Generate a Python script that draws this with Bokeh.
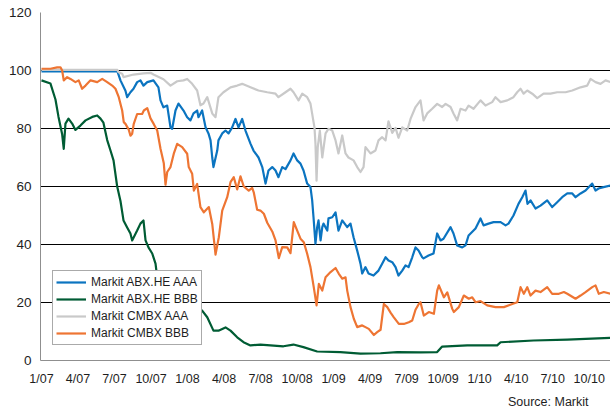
from bokeh.plotting import figure
from bokeh.models import Range1d, FixedTicker, Legend, LegendItem, Title
from bokeh.embed import file_html
from bokeh.resources import INLINE

# x = months since January 2007
tick_months = [0, 3, 6, 9, 12, 15, 18, 21, 24, 27, 30, 33, 36, 39, 42, 45]
tick_labels = ["1/07", "4/07", "7/07", "10/07", "1/08", "4/08", "7/08", "10/08",
               "1/09", "4/09", "7/09", "10/09", "1/10", "4/10", "7/10", "10/10"]
y_ticks = [0, 20, 40, 60, 80, 100, 120]

series_names = ["Markit ABX.HE AAA", "Markit ABX.HE BBB", "Markit CMBX AAA", "Markit CMBX BBB"]
series_colors = ["#0b74c0", "#005c34", "#c9c9c9", "#ee7533"]

abx_aaa_m = [0, 6.24, 6.49, 6.90, 7.04, 7.31, 7.56, 7.86, 8.13, 8.38,
             8.69, 9.20, 9.61, 9.78, 10.02, 10.33, 10.60, 10.74, 11.01, 11.26,
             11.67, 11.97, 12.24, 12.49, 12.79, 12.90, 13.20, 13.48, 13.72, 13.89,
             14.03, 14.13, 14.44, 14.54, 14.85, 15.12, 15.37, 15.67, 15.94, 16.19,
             16.49, 16.76, 17.17, 17.42, 17.83, 18.14, 18.41, 18.65, 18.96, 19.23,
             19.47, 19.78, 20.05, 20.46, 20.71, 21.01, 21.28, 21.53, 21.83, 22.10,
             22.24, 22.35, 22.51, 22.65, 22.76, 22.93, 23.07, 23.17, 23.48, 23.58,
             23.89, 24.16, 24.40, 24.71, 25.12, 25.39, 25.64, 25.94, 26.21, 26.35,
             26.62, 26.87, 27.28, 27.69, 27.99, 28.27, 28.51, 28.82, 29.09, 29.33,
             29.64, 29.91, 30.16, 30.46, 30.73, 30.98, 31.28, 31.39, 31.80, 32.21,
             32.51, 32.79, 33.03, 33.61, 33.85, 34.15, 34.57, 34.84, 35.09, 35.66,
             36.07, 36.32, 36.73, 37.14, 37.72, 38.13, 38.37, 38.78, 39.19, 39.50,
             39.77, 39.93, 40.18, 40.59, 41.00, 41.55, 41.96, 42.37, 42.78, 43.20,
             43.61, 43.88, 44.29, 44.70, 45.25, 45.52, 45.77, 46.18, 46.75]
abx_aaa_v = [99.7, 99.7, 96.6, 93, 90.8, 92.5, 93.7, 96, 96.6, 94.8,
             96, 96.6, 94.2, 89.7, 87.3, 87.9, 80.4, 79.9, 86.2, 88.6,
             86.2, 83.9, 82.8, 85.2, 86.2, 83.9, 86.2, 80.4, 78.3, 75.9,
             70, 66.7, 72.4, 75.9, 78.3, 79.3, 78.3, 80.4, 83.3, 80.4,
             83.3, 79.3, 74.8, 72.4, 70, 66.7, 61, 65.5, 66.7, 65.5,
             63.2, 66.7, 66, 69, 71.4, 69, 67.9, 65.5, 61, 59.8,
             55.2, 49.4, 40.3, 46, 48.3, 41.4, 46, 47.2, 44.8, 49,
             49.4, 51.1, 44.8, 48.3, 46, 47.2, 42.5, 37.9, 33.4, 30,
             32.2, 30, 29.3, 31, 33.4, 35.6, 34.5, 33.9, 32.2, 29.3,
             31, 32.8, 32.2, 35.6, 39, 37.9, 35.6, 35.2, 36.2, 36.9,
             43.8, 41.4, 42, 46, 43.8, 39.7, 39, 39.7, 43.1, 45.5,
             49, 46.6, 47.2, 47.7, 47.7, 46.6, 47.2, 50, 54, 56.3,
             58.6, 54, 55.2, 52.4, 53.4, 55.2, 52.9, 54.6, 56.3, 57.6,
             57.6, 56.3, 57.6, 58.6, 61, 58.6, 59.3, 59.8, 60.3]

abx_bbb_m = [0, 0.74, 1.15, 1.40, 1.70, 1.83, 1.97, 2.22, 2.52, 2.79,
             3.20, 3.62, 4.17, 4.58, 4.85, 5.09, 5.40, 5.67, 5.92, 6.22,
             6.49, 6.74, 7.04, 7.31, 7.45, 7.86, 8.13, 8.38, 8.55, 8.79,
             9.10, 9.37, 9.51, 13.20, 13.62, 14.13, 14.54, 15.12, 15.53, 16.08,
             16.60, 17.17, 17.99, 18.81, 19.88, 20.70, 21.52, 22.65, 24.56, 26.21,
             27.85, 29.23, 31.14, 32.51, 32.92, 34.98, 37.44, 37.72, 40.43, 43.20, 46.75]
abx_bbb_v = [96.6, 95.5, 90, 84, 78, 73, 81.7, 83.4, 81.7, 79.5,
             81, 82.8, 84, 84.5, 83.4, 82, 76, 72.4, 69, 60,
             55, 48.3, 45.9, 43.8, 41.4, 44.8, 47.2, 48.3, 41.4, 39,
             36.9, 33.4, 28.6, 17.2, 14.9, 10.3, 10.3, 11.4, 10.3, 8,
             6.3, 5.2, 5.5, 5.2, 4.9, 5.5, 4.6, 3.1, 2.9, 2.4,
             2.5, 2.9, 2.8, 2.9, 4.8, 5.2, 5.2, 6.3, 6.9, 7.2, 7.8]

cmbx_aaa_m = [0, 6.24, 6.33, 6.63, 6.74, 7.56, 8.38, 8.96, 9.20, 10.02,
              10.60, 11.15, 11.67, 11.97, 12.38, 12.79, 13.06, 13.31, 13.62, 14.03,
              14.30, 14.54, 14.95, 15.53, 16.08, 16.49, 17.17, 17.83, 18.55, 19.23,
              19.47, 20.05, 20.46, 20.71, 21.12, 21.42, 21.83, 22.10, 22.33, 22.43,
              22.51, 22.60, 22.70, 22.87, 23.07, 23.34, 23.58, 23.89, 24.16, 24.40,
              24.71, 24.98, 25.22, 25.64, 25.94, 26.21, 26.46, 26.62, 27.03, 27.44,
              27.69, 27.99, 28.27, 28.51, 28.82, 29.09, 29.33, 29.64, 30.05, 30.32,
              30.73, 31.14, 31.39, 31.69, 32.10, 32.51, 32.92, 33.20, 33.61, 33.85,
              34.15, 34.43, 34.84, 35.09, 35.50, 36.07, 36.48, 37.03, 37.30, 37.72,
              38.27, 38.78, 39.08, 39.36, 39.61, 39.91, 40.32, 40.73, 41.25, 41.82,
              42.37, 43.06, 43.61, 44.29, 44.84, 45.11, 45.52, 45.93, 46.34, 46.75]
cmbx_aaa_v = [100.2, 100.2, 99.4, 98.9, 97.7, 98.6, 99, 99.2, 98.6, 97,
              94.8, 96.3, 96.6, 97.1, 95.4, 93.1, 88, 88.6, 90.8, 85.2,
              83.9, 90.8, 92.5, 94.2, 94.8, 95.4, 94.2, 93.1, 92.5, 92,
              90.8, 92.5, 93.7, 92.5, 89.7, 92, 90.8, 88.6, 82.8, 80.4,
              74.8, 62, 73.6, 79.3, 70, 78.3, 79.9, 79.3, 75.9, 71.4,
              77.6, 71.4, 70, 69, 66.7, 65, 66.7, 73.6, 71.4, 72.4,
              75.9, 77, 75.9, 82.5, 78.5, 80.2, 76.8, 80.4, 79.3, 83.3,
              87.4, 89.7, 82.8, 85.2, 86.8, 88.5, 87.4, 88.5, 87.4, 85.2,
              82.8, 86.8, 86.2, 87.9, 86.8, 89.7, 87.9, 89.1, 90.8, 89.1,
              89.7, 90.8, 92.5, 93.7, 92, 93.1, 92, 90.5, 92, 92,
              92.5, 92.5, 93.1, 94.2, 94.8, 97.1, 96, 95.4, 96.6, 96]

cmbx_bbb_m = [0, 0.74, 1.29, 1.56, 1.70, 1.83, 2.11, 2.38, 2.79, 3.06,
              3.34, 3.62, 4.03, 4.58, 4.99, 5.40, 5.81, 6.08, 6.35, 6.63,
              6.76, 6.90, 7.17, 7.31, 7.45, 7.58, 7.86, 8.27, 8.41, 8.69,
              8.96, 9.23, 9.51, 9.78, 10.05, 10.19, 10.33, 10.60, 10.87, 11.15,
              11.56, 11.97, 12.10, 12.38, 12.52, 12.79, 13.06, 13.34, 13.75, 14.03,
              14.30, 14.57, 14.85, 15.26, 15.53, 15.80, 16.08, 16.35, 16.62, 17.03,
              17.31, 17.44, 17.72, 17.99, 18.27, 18.55, 18.96, 19.23, 19.50, 19.78,
              20.19, 20.46, 20.73, 21.01, 21.28, 21.55, 21.83, 22.10, 22.37, 22.60,
              22.79, 23.07, 23.34, 23.75, 24.16, 24.43, 24.71, 24.98, 25.12, 25.39,
              25.66, 25.94, 26.35, 26.62, 26.89, 27.31, 27.58, 27.86, 28.13, 28.41,
              28.68, 28.95, 29.36, 29.77, 30.18, 30.46, 30.73, 31.00, 31.14, 31.41,
              31.82, 32.24, 32.51, 32.65, 33.06, 33.34, 33.75, 33.88, 34.29, 34.70,
              35.11, 35.39, 35.66, 36.07, 36.62, 37.30, 37.99, 38.68, 39.09, 39.36,
              39.63, 39.91, 40.18, 40.59, 41.00, 41.55, 41.96, 42.51, 42.92, 43.20,
              43.88, 44.29, 44.70, 45.25, 45.52, 45.79, 46.20, 46.75]
cmbx_bbb_v = [100.6, 100.6, 101.1, 101.1, 100, 96.6, 97.7, 97.1, 96, 96.6,
              93.7, 94.8, 96.6, 96, 97.1, 96, 94.8, 93.7, 90.8, 86.2,
              82.2, 81.6, 79.6, 77.5, 78.2, 81.6, 85, 85, 86.2, 87,
              83.5, 81.5, 79.3, 73, 68, 60.6, 65, 66.7, 71.3, 74.7,
              73.6, 71.3, 66.7, 64.4, 58.6, 60.9, 52.9, 51.1, 52.9, 47.1,
              36.5, 42.5, 51.7, 56.3, 61.5, 63.2, 59, 63.5, 60, 58.6,
              59.5, 58, 52, 51.7, 50.6, 47.5, 44.5, 41.4, 35.3, 39.1,
              39, 37, 47.7, 44.8, 42, 40.8, 36.8, 32.2, 25.3, 19,
              26.4, 24.1, 28.7, 30.5, 31.9, 29.9, 28.2, 28.7, 24.1, 18.4,
              14.4, 11.5, 12.1, 11.5, 10.9, 8.8, 9.8, 10.6, 19.5, 18.4,
              16.5, 14.9, 12.6, 12.6, 13.2, 13.8, 17.5, 19.5, 20.1, 15.5,
              16.7, 16.1, 24.1, 25.9, 21.8, 23.5, 17.8, 16.7, 18.4, 22.4,
              21.3, 21.8, 20.1, 20.5, 19, 18.4, 18.4, 19.5, 20.1, 25.3,
              23, 25.3, 22.4, 24.1, 23.6, 25.3, 23, 23, 23.6, 23,
              21.3, 22.4, 23.6, 25.3, 25.9, 23, 23.6, 23]

FONT = "Liberation Sans"
TEXT = "#1e1e1e"

p = figure(width=610, height=413, output_backend="svg", toolbar_location=None,
           x_range=Range1d(-0.08, 46.75), y_range=Range1d(0, 120),
           min_border_left=40, min_border_right=0, min_border_top=12, min_border_bottom=53)
p.outline_line_color = None
p.background_fill_color = "white"
p.border_fill_color = "white"

p.xaxis.ticker = FixedTicker(ticks=tick_months)
p.xaxis.major_label_overrides = {m: l for m, l in zip(tick_months, tick_labels)}
p.yaxis.ticker = FixedTicker(ticks=y_ticks)
for ax in (p.xaxis[0], p.yaxis[0]):
    ax.axis_line_color = "#8f8f8f"
    ax.axis_line_width = 1
    ax.major_tick_line_color = None
    ax.minor_tick_line_color = None
    ax.major_tick_out = 0
    ax.major_tick_in = 0
    ax.major_label_text_font = FONT
    ax.major_label_text_color = TEXT
p.xaxis.major_label_text_font_size = "12.5px"
p.yaxis.major_label_text_font_size = "13.5px"
p.xaxis.major_label_standoff = 11
p.yaxis.major_label_standoff = 9

p.xgrid.visible = False
p.ygrid.ticker = FixedTicker(ticks=y_ticks[1:])
p.ygrid.grid_line_color = "black"
p.ygrid.grid_line_width = 1

xs = [abx_aaa_m, abx_bbb_m, cmbx_aaa_m, cmbx_bbb_m]
ys = [abx_aaa_v, abx_bbb_v, cmbx_aaa_v, cmbx_bbb_v]
items = []
for name, color, x, y in zip(series_names, series_colors, xs, ys):
    r = p.line(x, y, line_color=color, line_width=2.2, line_join="round")
    items.append(LegendItem(label=name, renderers=[r]))

legend = Legend(items=items, location=(12, 15), padding=3, spacing=1,
                label_height=16, glyph_height=16, glyph_width=30, label_standoff=5,
                label_text_font=FONT, label_text_font_size="12px", label_text_color=TEXT,
                border_line_color="#555555", border_line_width=1,
                background_fill_color="white", background_fill_alpha=1.0, margin=0)
p.add_layout(legend)

src = Title(text="Source: Markit", align="right", offset=22, standoff=8,
            text_font=FONT, text_font_size="12.5px", text_font_style="normal",
            text_color=TEXT)
p.add_layout(src, "below")

open("out.html", "w").write(file_html(p, INLINE))
